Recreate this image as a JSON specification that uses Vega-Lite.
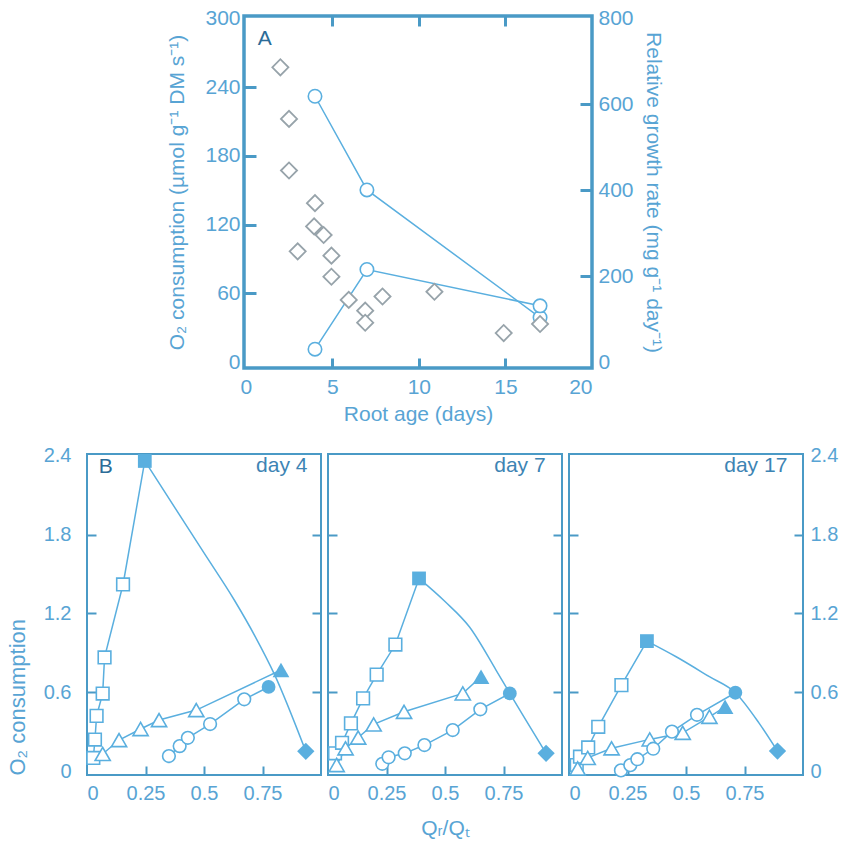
{
  "$schema": "https://vega.github.io/schema/vega-lite/v6.json",
  "background": "white",
  "padding": 5,
  "config": {
    "font": "Liberation Sans",
    "view": {"stroke": "#4a9ac6"},
    "axis": {
      "domain": false, "grid": false,
      "labelFont": "Liberation Sans", "labelFontSize": 20, "labelColor": "#58a4d4",
      "titleFont": "Liberation Sans", "titleFontSize": 21, "titleColor": "#58a4d4", "titleFontWeight": "normal",
      "tickColor": "#4a9ac6"
    }
  },
  "datasets": {
    "acirc": [
      {"s": "a", "age": 4, "o2": 232},
      {"s": "a", "age": 7, "o2": 150.3},
      {"s": "a", "age": 17, "o2": 39},
      {"s": "b", "age": 4, "o2": 11.4},
      {"s": "b", "age": 7, "o2": 80.9},
      {"s": "b", "age": 17, "o2": 49.2}
    ],
    "adia": [
      {"age": 2, "rgr": 686}, {"age": 2.5, "rgr": 566}, {"age": 2.5, "rgr": 446},
      {"age": 3, "rgr": 258}, {"age": 4, "rgr": 370}, {"age": 3.95, "rgr": 316},
      {"age": 4.5, "rgr": 296}, {"age": 4.95, "rgr": 248}, {"age": 4.95, "rgr": 199},
      {"age": 5.95, "rgr": 145}, {"age": 6.9, "rgr": 120}, {"age": 6.9, "rgr": 92},
      {"age": 7.9, "rgr": 153}, {"age": 10.9, "rgr": 164}, {"age": 14.9, "rgr": 68},
      {"age": 17, "rgr": 89}
    ],
    "b": [
      {"d": 4, "s": "sq", "x": 0.027, "y": 0.10, "f": 0},
      {"d": 4, "s": "sq", "x": 0.034, "y": 0.24, "f": 0},
      {"d": 4, "s": "sq", "x": 0.041, "y": 0.42, "f": 0},
      {"d": 4, "s": "sq", "x": 0.067, "y": 0.59, "f": 0},
      {"d": 4, "s": "sq", "x": 0.075, "y": 0.865, "f": 0},
      {"d": 4, "s": "sq", "x": 0.154, "y": 1.42, "f": 0},
      {"d": 4, "s": "sq", "x": 0.247, "y": 2.36, "f": 1},
      {"d": 4, "s": "tr", "x": 0.067, "y": 0.13, "f": 0},
      {"d": 4, "s": "tr", "x": 0.137, "y": 0.236, "f": 0},
      {"d": 4, "s": "tr", "x": 0.229, "y": 0.32, "f": 0},
      {"d": 4, "s": "tr", "x": 0.308, "y": 0.388, "f": 0},
      {"d": 4, "s": "tr", "x": 0.467, "y": 0.464, "f": 0},
      {"d": 4, "s": "tr", "x": 0.829, "y": 0.769, "f": 1},
      {"d": 4, "s": "ci", "x": 0.35, "y": 0.114, "f": 0},
      {"d": 4, "s": "ci", "x": 0.396, "y": 0.19, "f": 0},
      {"d": 4, "s": "ci", "x": 0.431, "y": 0.253, "f": 0},
      {"d": 4, "s": "ci", "x": 0.526, "y": 0.358, "f": 0},
      {"d": 4, "s": "ci", "x": 0.672, "y": 0.546, "f": 0},
      {"d": 4, "s": "ci", "x": 0.776, "y": 0.64, "f": 1},
      {"d": 4, "s": "di", "x": 0.935, "y": 0.15, "f": 1},
      {"d": 4, "s": "curve", "x": 0.247, "y": 2.36, "f": 0},
      {"d": 4, "s": "curve", "x": 0.50, "y": 1.66, "f": 0},
      {"d": 4, "s": "curve", "x": 0.63, "y": 1.30, "f": 0},
      {"d": 4, "s": "curve", "x": 0.72, "y": 1.02, "f": 0},
      {"d": 4, "s": "curve", "x": 0.80, "y": 0.74, "f": 0},
      {"d": 4, "s": "curve", "x": 0.935, "y": 0.15, "f": 0},

      {"d": 7, "s": "sq", "x": 0.03, "y": 0.135, "f": 0},
      {"d": 7, "s": "sq", "x": 0.06, "y": 0.215, "f": 0},
      {"d": 7, "s": "sq", "x": 0.098, "y": 0.363, "f": 0},
      {"d": 7, "s": "sq", "x": 0.15, "y": 0.553, "f": 0},
      {"d": 7, "s": "sq", "x": 0.208, "y": 0.734, "f": 0},
      {"d": 7, "s": "sq", "x": 0.288, "y": 0.963, "f": 0},
      {"d": 7, "s": "sq", "x": 0.389, "y": 1.466, "f": 1},
      {"d": 7, "s": "tr", "x": 0.037, "y": 0.046, "f": 0},
      {"d": 7, "s": "tr", "x": 0.075, "y": 0.173, "f": 0},
      {"d": 7, "s": "tr", "x": 0.129, "y": 0.255, "f": 0},
      {"d": 7, "s": "tr", "x": 0.195, "y": 0.355, "f": 0},
      {"d": 7, "s": "tr", "x": 0.325, "y": 0.451, "f": 0},
      {"d": 7, "s": "tr", "x": 0.576, "y": 0.591, "f": 0},
      {"d": 7, "s": "tr", "x": 0.654, "y": 0.718, "f": 1},
      {"d": 7, "s": "ci", "x": 0.232, "y": 0.055, "f": 0},
      {"d": 7, "s": "ci", "x": 0.259, "y": 0.105, "f": 0},
      {"d": 7, "s": "ci", "x": 0.328, "y": 0.135, "f": 0},
      {"d": 7, "s": "ci", "x": 0.412, "y": 0.198, "f": 0},
      {"d": 7, "s": "ci", "x": 0.533, "y": 0.312, "f": 0},
      {"d": 7, "s": "ci", "x": 0.651, "y": 0.47, "f": 0},
      {"d": 7, "s": "ci", "x": 0.777, "y": 0.591, "f": 1},
      {"d": 7, "s": "di", "x": 0.932, "y": 0.135, "f": 1},
      {"d": 7, "s": "curve", "x": 0.389, "y": 1.466, "f": 0},
      {"d": 7, "s": "curve", "x": 0.50, "y": 1.29, "f": 0},
      {"d": 7, "s": "curve", "x": 0.604, "y": 1.098, "f": 0},
      {"d": 7, "s": "curve", "x": 0.718, "y": 0.769, "f": 0},
      {"d": 7, "s": "curve", "x": 0.777, "y": 0.591, "f": 0},
      {"d": 7, "s": "curve", "x": 0.932, "y": 0.135, "f": 0},

      {"d": 17, "s": "sq", "x": 0.033, "y": 0.046, "f": 0},
      {"d": 17, "s": "sq", "x": 0.047, "y": 0.109, "f": 0},
      {"d": 17, "s": "sq", "x": 0.082, "y": 0.18, "f": 0},
      {"d": 17, "s": "sq", "x": 0.125, "y": 0.337, "f": 0},
      {"d": 17, "s": "sq", "x": 0.224, "y": 0.654, "f": 0},
      {"d": 17, "s": "sq", "x": 0.333, "y": 0.989, "f": 1},
      {"d": 17, "s": "tr", "x": 0.037, "y": 0.02, "f": 0},
      {"d": 17, "s": "tr", "x": 0.08, "y": 0.1, "f": 0},
      {"d": 17, "s": "tr", "x": 0.182, "y": 0.173, "f": 0},
      {"d": 17, "s": "tr", "x": 0.345, "y": 0.241, "f": 0},
      {"d": 17, "s": "tr", "x": 0.486, "y": 0.291, "f": 0},
      {"d": 17, "s": "tr", "x": 0.6, "y": 0.413, "f": 0},
      {"d": 17, "s": "tr", "x": 0.667, "y": 0.489, "f": 1},
      {"d": 17, "s": "ci", "x": 0.222, "y": 0.005, "f": 0},
      {"d": 17, "s": "ci", "x": 0.262, "y": 0.045, "f": 0},
      {"d": 17, "s": "ci", "x": 0.292, "y": 0.09, "f": 0},
      {"d": 17, "s": "ci", "x": 0.36, "y": 0.17, "f": 0},
      {"d": 17, "s": "ci", "x": 0.44, "y": 0.30, "f": 0},
      {"d": 17, "s": "ci", "x": 0.547, "y": 0.428, "f": 0},
      {"d": 17, "s": "ci", "x": 0.711, "y": 0.596, "f": 1},
      {"d": 17, "s": "di", "x": 0.891, "y": 0.152, "f": 1},
      {"d": 17, "s": "curve", "x": 0.333, "y": 0.989, "f": 0},
      {"d": 17, "s": "curve", "x": 0.458, "y": 0.87, "f": 0},
      {"d": 17, "s": "curve", "x": 0.6, "y": 0.718, "f": 0},
      {"d": 17, "s": "curve", "x": 0.711, "y": 0.596, "f": 0},
      {"d": 17, "s": "curve", "x": 0.813, "y": 0.363, "f": 0},
      {"d": 17, "s": "curve", "x": 0.891, "y": 0.152, "f": 0}
    ]
  },
  "spacing": 18,
  "vconcat": [
    {
      "spacing": 0,
      "hconcat": [
        {
          "width": 78, "height": 10,
          "data": {"values": []},
          "mark": {"type": "point", "opacity": 0},
          "encoding": {},
          "view": {"stroke": null}
        },
        {
          "width": 348, "height": 352,
          "view": {"stroke": "#4a9ac6", "strokeWidth": 3.5},
          "layer": [
            {
              "layer": [
                {
                  "data": {"name": "acirc"},
                  "mark": {"type": "line", "color": "#5aafdf", "strokeWidth": 1.5},
                  "encoding": {
                    "x": {"field": "age", "type": "quantitative", "scale": {"domain": [-0.1, 20], "nice": false},
                      "axis": {"values": [0, 5, 10, 15, 20], "labelFontSize": 21, "tickSize": -10, "tickWidth": 3, "labelPadding": 18, "title": "Root age (days)", "titlePadding": 6,
                        "tickOpacity": {"condition": {"test": "datum.value == 0 || datum.value == 20", "value": 0}, "value": 1}}},
                    "y": {"field": "o2", "type": "quantitative", "scale": {"domain": [-5, 302], "nice": false, "zero": false},
                      "axis": {"values": [0, 60, 120, 180, 240, 300], "labelFontSize": 21, "tickSize": -12, "tickWidth": 3, "labelPadding": 16, "title": "O₂ consumption (µmol g⁻¹ DM s⁻¹)", "titlePadding": 17,
                        "tickOpacity": {"condition": {"test": "datum.value == 0 || datum.value == 300", "value": 0}, "value": 1}}},
                    "detail": {"field": "s"}
                  }
                },
                {
                  "data": {"name": "acirc"},
                  "mark": {"type": "point", "shape": "circle", "filled": true, "fill": "white", "stroke": "#5aafdf", "strokeWidth": 1.6, "size": 180, "opacity": 1},
                  "encoding": {
                    "x": {"field": "age", "type": "quantitative", "scale": {"domain": [-0.1, 20], "nice": false}},
                    "y": {"field": "o2", "type": "quantitative", "scale": {"domain": [-5, 302], "nice": false, "zero": false}}
                  }
                },
                {
                  "data": {"values": [{}]},
                  "mark": {"type": "text", "text": "A", "fontSize": 21, "color": "#2c6c98", "align": "center", "baseline": "middle"},
                  "encoding": {
                    "x": {"datum": 1.1, "type": "quantitative", "scale": {"domain": [-0.1, 20], "nice": false}},
                    "y": {"datum": 282, "type": "quantitative", "scale": {"domain": [-5, 302], "nice": false, "zero": false}}
                  }
                }
              ]
            },
            {
              "data": {"name": "adia"},
              "mark": {"type": "point", "shape": "diamond", "filled": true, "fill": "white", "stroke": "#97a3aa", "strokeWidth": 1.8, "size": 260, "opacity": 1},
              "encoding": {
                "x": {"field": "age", "type": "quantitative", "scale": {"domain": [-0.1, 20], "nice": false},
                  "axis": {"orient": "top", "values": [5, 10, 15], "labels": false, "tickSize": -10, "tickWidth": 3, "title": null}},
                "y": {"field": "rgr", "type": "quantitative", "scale": {"domain": [-13.3, 805.3], "nice": false, "zero": false},
                  "axis": {"orient": "right", "values": [0, 200, 400, 600, 800], "labelFontSize": 21, "tickSize": -12, "tickWidth": 3, "labelPadding": 18, "title": "Relative growth rate (mg g⁻¹ day⁻¹)", "titlePadding": 9,
                    "tickOpacity": {"condition": {"test": "datum.value == 0 || datum.value == 800", "value": 0}, "value": 1}}}
              }
            }
          ],
          "resolve": {"scale": {"x": "independent", "y": "independent"}, "axis": {"x": "independent", "y": "independent"}}
        }
      ]
    },
    {
      "spacing": 1,
      "hconcat": [
        {
          "width": 234, "height": 321,
          "data": {"name": "b"},
          "transform": [{"filter": "datum.d == 4"}],
          "view": {"stroke": "#4a9ac6", "strokeWidth": 2},
          "layer": [
            {
              "layer": [
                {
                  "transform": [{"filter": "datum.s == 'sq' || datum.s == 'tr' || datum.s == 'ci'"}],
                  "mark": {"type": "line", "color": "#5aafdf", "strokeWidth": 1.5},
                  "encoding": {
                    "x": {"field": "x", "type": "quantitative", "scale": {"domain": [0, 1], "nice": false},
                      "axis": {"values": [0, 0.25, 0.5, 0.75], "labelExpr": "'' + datum.value", "tickSize": -9, "tickWidth": 2, "labelPadding": 17, "title": null,
                        "tickOpacity": {"condition": {"test": "datum.value == 0", "value": 0}, "value": 1}}},
                    "y": {"field": "y", "type": "quantitative", "scale": {"domain": [-0.03, 2.413], "nice": false, "zero": false},
                      "axis": {"values": [0, 0.6, 1.2, 1.8, 2.4], "labelExpr": "'' + datum.value", "tickSize": -9, "tickWidth": 2, "labelPadding": 25, "title": "O₂ consumption", "titleFontSize": 22, "titleAnchor": "start", "titlePadding": 14,
                        "tickOpacity": {"condition": {"test": "datum.value == 0 || datum.value == 2.4", "value": 0}, "value": 1}}},
                    "detail": {"field": "s"}
                  }
                },
                {
                  "transform": [{"filter": "datum.s == 'curve'"}],
                  "mark": {"type": "line", "color": "#5aafdf", "strokeWidth": 1.5, "interpolate": "monotone"},
                  "encoding": {
                    "x": {"field": "x", "type": "quantitative", "scale": {"domain": [0, 1], "nice": false}},
                    "y": {"field": "y", "type": "quantitative", "scale": {"domain": [-0.03, 2.413], "nice": false, "zero": false}}
                  }
                },
                {
                  "transform": [{"filter": "datum.s != 'curve' && datum.f == 0"}],
                  "mark": {"type": "point", "filled": true, "fill": "white", "stroke": "#5aafdf", "strokeWidth": 1.6, "opacity": 1},
                  "encoding": {
                    "x": {"field": "x", "type": "quantitative", "scale": {"domain": [0, 1], "nice": false}},
                    "y": {"field": "y", "type": "quantitative", "scale": {"domain": [-0.03, 2.413], "nice": false, "zero": false}},
                    "shape": {"field": "s", "type": "nominal", "scale": {"domain": ["sq", "tr", "ci", "di"], "range": ["square", "triangle-up", "circle", "diamond"]}, "legend": null},
                    "size": {"condition": {"test": "datum.s == 'tr'", "value": 230}, "value": 160}
                  }
                },
                {
                  "transform": [{"filter": "datum.f == 1 && datum.s != 'di'"}],
                  "mark": {"type": "point", "filled": true, "color": "#5aafdf", "opacity": 1},
                  "encoding": {
                    "x": {"field": "x", "type": "quantitative", "scale": {"domain": [0, 1], "nice": false}},
                    "y": {"field": "y", "type": "quantitative", "scale": {"domain": [-0.03, 2.413], "nice": false, "zero": false}},
                    "shape": {"field": "s", "type": "nominal", "scale": {"domain": ["sq", "tr", "ci", "di"], "range": ["square", "triangle-up", "circle", "diamond"]}, "legend": null},
                    "size": {"condition": {"test": "datum.s == 'tr'", "value": 280}, "value": 190}
                  }
                },
                {
                  "transform": [{"filter": "datum.s == 'di'"}],
                  "mark": {"type": "point", "shape": "diamond", "filled": true, "color": "#5aafdf", "size": 300, "opacity": 1},
                  "encoding": {
                    "x": {"field": "x", "type": "quantitative", "scale": {"domain": [0, 1], "nice": false}},
                    "y": {"field": "y", "type": "quantitative", "scale": {"domain": [-0.03, 2.413], "nice": false, "zero": false}}
                  }
                },
                {
                  "data": {"values": [{}]},
                  "mark": {"type": "text", "text": "B", "fontSize": 21, "color": "#2c6c98", "align": "center", "baseline": "middle"},
                  "encoding": {
                    "x": {"datum": 0.08, "type": "quantitative", "scale": {"domain": [0, 1], "nice": false}},
                    "y": {"datum": 2.316, "type": "quantitative", "scale": {"domain": [-0.03, 2.413], "nice": false, "zero": false}}
                  }
                },
                {
                  "data": {"values": [{}]},
                  "mark": {"type": "text", "text": "day 4", "fontSize": 21, "color": "#3d84b4", "align": "right", "baseline": "alphabetic"},
                  "encoding": {
                    "x": {"datum": 0.942, "type": "quantitative", "scale": {"domain": [0, 1], "nice": false}},
                    "y": {"datum": 2.278, "type": "quantitative", "scale": {"domain": [-0.03, 2.413], "nice": false, "zero": false}}
                  }
                }
              ]
            },
            {
              "mark": {"type": "point", "opacity": 0},
              "encoding": {
                "y": {"field": "y", "type": "quantitative", "scale": {"domain": [-0.03, 2.413], "nice": false, "zero": false},
                  "axis": {"orient": "right", "values": [0, 0.6, 1.2, 1.8, 2.4], "labels": false, "tickSize": -9, "tickWidth": 2, "title": null,
                    "tickOpacity": {"condition": {"test": "datum.value == 0 || datum.value == 2.4", "value": 0}, "value": 1}}}
              }
            }
          ],
          "resolve": {"scale": {"y": "independent"}, "axis": {"y": "independent"}}
        },
        {
          "width": 234, "height": 321,
          "data": {"name": "b"},
          "transform": [{"filter": "datum.d == 7"}],
          "view": {"stroke": "#4a9ac6", "strokeWidth": 2},
          "layer": [
            {
              "layer": [
                {
                  "transform": [{"filter": "datum.s == 'sq' || datum.s == 'tr' || datum.s == 'ci'"}],
                  "mark": {"type": "line", "color": "#5aafdf", "strokeWidth": 1.5},
                  "encoding": {
                    "x": {"field": "x", "type": "quantitative", "scale": {"domain": [0, 1], "nice": false},
                      "axis": {"values": [0, 0.25, 0.5, 0.75], "labelExpr": "'' + datum.value", "tickSize": -9, "tickWidth": 2, "labelPadding": 17, "title": "Qᵣ/Qₜ", "titlePadding": 14,
                        "tickOpacity": {"condition": {"test": "datum.value == 0", "value": 0}, "value": 1}}},
                    "y": {"field": "y", "type": "quantitative", "scale": {"domain": [-0.03, 2.413], "nice": false, "zero": false},
                      "axis": {"values": [0, 0.6, 1.2, 1.8, 2.4], "labels": false, "tickSize": -9, "tickWidth": 2, "title": null,
                        "tickOpacity": {"condition": {"test": "datum.value == 0 || datum.value == 2.4", "value": 0}, "value": 1}}},
                    "detail": {"field": "s"}
                  }
                },
                {
                  "transform": [{"filter": "datum.s == 'curve'"}],
                  "mark": {"type": "line", "color": "#5aafdf", "strokeWidth": 1.5, "interpolate": "monotone"},
                  "encoding": {
                    "x": {"field": "x", "type": "quantitative", "scale": {"domain": [0, 1], "nice": false}},
                    "y": {"field": "y", "type": "quantitative", "scale": {"domain": [-0.03, 2.413], "nice": false, "zero": false}}
                  }
                },
                {
                  "transform": [{"filter": "datum.s != 'curve' && datum.f == 0"}],
                  "mark": {"type": "point", "filled": true, "fill": "white", "stroke": "#5aafdf", "strokeWidth": 1.6, "opacity": 1},
                  "encoding": {
                    "x": {"field": "x", "type": "quantitative", "scale": {"domain": [0, 1], "nice": false}},
                    "y": {"field": "y", "type": "quantitative", "scale": {"domain": [-0.03, 2.413], "nice": false, "zero": false}},
                    "shape": {"field": "s", "type": "nominal", "scale": {"domain": ["sq", "tr", "ci", "di"], "range": ["square", "triangle-up", "circle", "diamond"]}, "legend": null},
                    "size": {"condition": {"test": "datum.s == 'tr'", "value": 230}, "value": 160}
                  }
                },
                {
                  "transform": [{"filter": "datum.f == 1 && datum.s != 'di'"}],
                  "mark": {"type": "point", "filled": true, "color": "#5aafdf", "opacity": 1},
                  "encoding": {
                    "x": {"field": "x", "type": "quantitative", "scale": {"domain": [0, 1], "nice": false}},
                    "y": {"field": "y", "type": "quantitative", "scale": {"domain": [-0.03, 2.413], "nice": false, "zero": false}},
                    "shape": {"field": "s", "type": "nominal", "scale": {"domain": ["sq", "tr", "ci", "di"], "range": ["square", "triangle-up", "circle", "diamond"]}, "legend": null},
                    "size": {"condition": {"test": "datum.s == 'tr'", "value": 280}, "value": 190}
                  }
                },
                {
                  "transform": [{"filter": "datum.s == 'di'"}],
                  "mark": {"type": "point", "shape": "diamond", "filled": true, "color": "#5aafdf", "size": 300, "opacity": 1},
                  "encoding": {
                    "x": {"field": "x", "type": "quantitative", "scale": {"domain": [0, 1], "nice": false}},
                    "y": {"field": "y", "type": "quantitative", "scale": {"domain": [-0.03, 2.413], "nice": false, "zero": false}}
                  }
                },
                {
                  "data": {"values": [{}]},
                  "mark": {"type": "text", "text": "day 7", "fontSize": 21, "color": "#3d84b4", "align": "right", "baseline": "alphabetic"},
                  "encoding": {
                    "x": {"datum": 0.93, "type": "quantitative", "scale": {"domain": [0, 1], "nice": false}},
                    "y": {"datum": 2.278, "type": "quantitative", "scale": {"domain": [-0.03, 2.413], "nice": false, "zero": false}}
                  }
                }
              ]
            },
            {
              "mark": {"type": "point", "opacity": 0},
              "encoding": {
                "y": {"field": "y", "type": "quantitative", "scale": {"domain": [-0.03, 2.413], "nice": false, "zero": false},
                  "axis": {"orient": "right", "values": [0, 0.6, 1.2, 1.8, 2.4], "labels": false, "tickSize": -9, "tickWidth": 2, "title": null,
                    "tickOpacity": {"condition": {"test": "datum.value == 0 || datum.value == 2.4", "value": 0}, "value": 1}}}
              }
            }
          ],
          "resolve": {"scale": {"y": "independent"}, "axis": {"y": "independent"}}
        },
        {
          "width": 234, "height": 321,
          "data": {"name": "b"},
          "transform": [{"filter": "datum.d == 17"}],
          "view": {"stroke": "#4a9ac6", "strokeWidth": 2},
          "layer": [
            {
              "layer": [
                {
                  "transform": [{"filter": "datum.s == 'sq' || datum.s == 'tr' || datum.s == 'ci'"}],
                  "mark": {"type": "line", "color": "#5aafdf", "strokeWidth": 1.5},
                  "encoding": {
                    "x": {"field": "x", "type": "quantitative", "scale": {"domain": [0, 1], "nice": false},
                      "axis": {"values": [0, 0.25, 0.5, 0.75], "labelExpr": "'' + datum.value", "tickSize": -9, "tickWidth": 2, "labelPadding": 17, "title": null,
                        "tickOpacity": {"condition": {"test": "datum.value == 0", "value": 0}, "value": 1}}},
                    "y": {"field": "y", "type": "quantitative", "scale": {"domain": [-0.03, 2.413], "nice": false, "zero": false},
                      "axis": {"values": [0, 0.6, 1.2, 1.8, 2.4], "labels": false, "tickSize": -9, "tickWidth": 2, "title": null,
                        "tickOpacity": {"condition": {"test": "datum.value == 0 || datum.value == 2.4", "value": 0}, "value": 1}}},
                    "detail": {"field": "s"}
                  }
                },
                {
                  "transform": [{"filter": "datum.s == 'curve'"}],
                  "mark": {"type": "line", "color": "#5aafdf", "strokeWidth": 1.5, "interpolate": "monotone"},
                  "encoding": {
                    "x": {"field": "x", "type": "quantitative", "scale": {"domain": [0, 1], "nice": false}},
                    "y": {"field": "y", "type": "quantitative", "scale": {"domain": [-0.03, 2.413], "nice": false, "zero": false}}
                  }
                },
                {
                  "transform": [{"filter": "datum.s != 'curve' && datum.f == 0"}],
                  "mark": {"type": "point", "filled": true, "fill": "white", "stroke": "#5aafdf", "strokeWidth": 1.6, "opacity": 1},
                  "encoding": {
                    "x": {"field": "x", "type": "quantitative", "scale": {"domain": [0, 1], "nice": false}},
                    "y": {"field": "y", "type": "quantitative", "scale": {"domain": [-0.03, 2.413], "nice": false, "zero": false}},
                    "shape": {"field": "s", "type": "nominal", "scale": {"domain": ["sq", "tr", "ci", "di"], "range": ["square", "triangle-up", "circle", "diamond"]}, "legend": null},
                    "size": {"condition": {"test": "datum.s == 'tr'", "value": 230}, "value": 160}
                  }
                },
                {
                  "transform": [{"filter": "datum.f == 1 && datum.s != 'di'"}],
                  "mark": {"type": "point", "filled": true, "color": "#5aafdf", "opacity": 1},
                  "encoding": {
                    "x": {"field": "x", "type": "quantitative", "scale": {"domain": [0, 1], "nice": false}},
                    "y": {"field": "y", "type": "quantitative", "scale": {"domain": [-0.03, 2.413], "nice": false, "zero": false}},
                    "shape": {"field": "s", "type": "nominal", "scale": {"domain": ["sq", "tr", "ci", "di"], "range": ["square", "triangle-up", "circle", "diamond"]}, "legend": null},
                    "size": {"condition": {"test": "datum.s == 'tr'", "value": 280}, "value": 190}
                  }
                },
                {
                  "transform": [{"filter": "datum.s == 'di'"}],
                  "mark": {"type": "point", "shape": "diamond", "filled": true, "color": "#5aafdf", "size": 300, "opacity": 1},
                  "encoding": {
                    "x": {"field": "x", "type": "quantitative", "scale": {"domain": [0, 1], "nice": false}},
                    "y": {"field": "y", "type": "quantitative", "scale": {"domain": [-0.03, 2.413], "nice": false, "zero": false}}
                  }
                },
                {
                  "data": {"values": [{}]},
                  "mark": {"type": "text", "text": "day 17", "fontSize": 21, "color": "#3d84b4", "align": "right", "baseline": "alphabetic"},
                  "encoding": {
                    "x": {"datum": 0.933, "type": "quantitative", "scale": {"domain": [0, 1], "nice": false}},
                    "y": {"datum": 2.278, "type": "quantitative", "scale": {"domain": [-0.03, 2.413], "nice": false, "zero": false}}
                  }
                }
              ]
            },
            {
              "mark": {"type": "point", "opacity": 0},
              "encoding": {
                "y": {"field": "y", "type": "quantitative", "scale": {"domain": [-0.03, 2.413], "nice": false, "zero": false},
                  "axis": {"orient": "right", "values": [0, 0.6, 1.2, 1.8, 2.4], "labelExpr": "'' + datum.value", "tickSize": -9, "tickWidth": 2, "labelPadding": 16, "title": null,
                    "tickOpacity": {"condition": {"test": "datum.value == 0 || datum.value == 2.4", "value": 0}, "value": 1}}}
              }
            }
          ],
          "resolve": {"scale": {"y": "independent"}, "axis": {"y": "independent"}}
        }
      ]
    }
  ]
}
